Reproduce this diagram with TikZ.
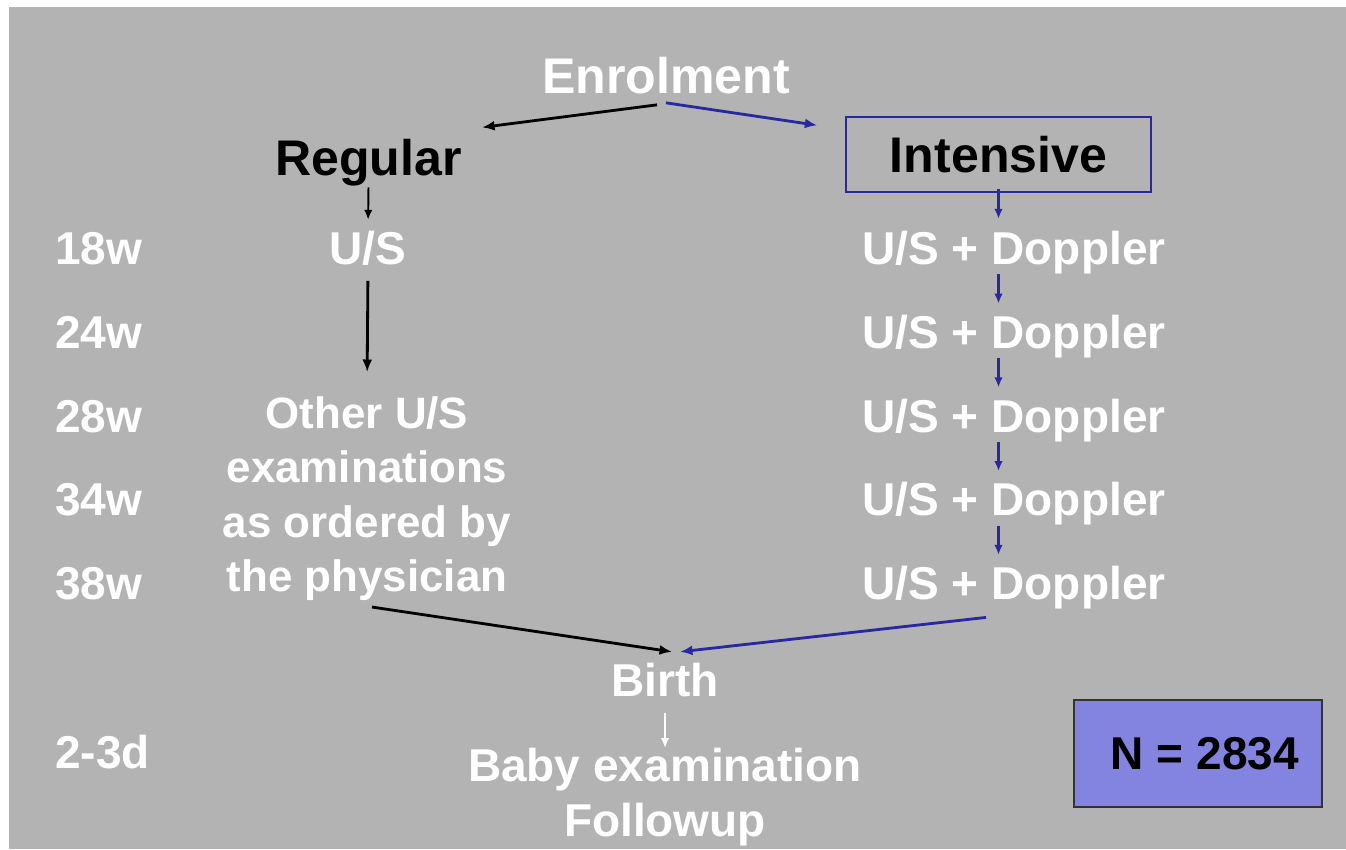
\documentclass[tikz,border=0pt]{standalone}
\usepackage{fontspec}
\setmainfont{Liberation Sans}
\usetikzlibrary{arrows.meta,calc}
\definecolor{slidegray}{RGB}{179,179,179}
\definecolor{arrowblue}{RGB}{40,40,160}
\definecolor{boxblue}{RGB}{131,131,224}
\newcommand\headfont{\fontsize{28.5}{34}\selectfont\bfseries}
\newcommand\rowfont{\fontsize{26.2}{31}\selectfont\bfseries}
\newcommand\notefont{\fontsize{25}{31}\selectfont\bfseries}

\begin{document}
\begin{tikzpicture}[x=0.02cm,y=-0.02cm]
    \tikzset{title/.style = {font=\headfont, inner sep=0pt}}
    \tikzset{row/.style = {font=\rowfont, text=white, inner sep=0pt, anchor=base}}
    \tikzset{week/.style = {row, anchor=base west}}
    \tikzset{blk/.style = {draw=black, line width=1.6pt, -{Latex[length=0.25cm,width=0.2cm]}}}
    \tikzset{blu/.style = {blk, draw=arrowblue}}
    \tikzset{short/.style = {-{Latex[length=0.2cm,width=0.17cm]}}}

    \useasboundingbox (0,0) rectangle (1346,849);
    \fill[slidegray] (9,7) rectangle (1346,849);

    % vertices
    \node[title, text=white, anchor=base] (enrol) at (666,93) {Enrolment};
    \node[title, anchor=base] (regular) at (368.5,175) {Regular};
    \node[title, draw=arrowblue, line width=0.8pt, minimum width=6.1cm, minimum height=1.5cm] (intens) at (998.5,154.5) {Intensive};
    \node[row] (us) at (368,264.5) {U/S};
    \foreach \w [count=\i] in {18w,24w,28w,34w,38w}
        \node[week] (wk\i) at (55,180.75+83.75*\i) {\w};
    \node[week] (wk6) at (55,768.5) {2-3d};
    \foreach \i in {1,...,5}
        \node[row] (dop\i) at (1014,180.75+83.75*\i) {U/S + Doppler};
    \node[row, font=\notefont, align=center, anchor=north] (other) at (367,396) {Other U/S\\examinations\\as ordered by\\the physician};
    \node[row] (birth) at (665,696.5) {Birth};
    \node[row, align=center, anchor=north] (baby) at (665,748) {Baby examination\\Followup};
    \node[draw=black!80, line width=1pt, fill=boxblue, font=\rowfont, minimum width=4.96cm, minimum height=2.14cm] (count) at (1198,753.5) {\hspace{8pt}N = 2834};

    % edges
    \draw[blk] ($(enrol.south)+(-9,11)$) -- ($(regular.north east)+(20,-11)$);
    \draw[blu] ($(enrol.south)+(0,9)$) -- ($(intens.north west)+(-28,9)$);
    \draw[blk, short, line width=1.1pt, shorten <=0.03cm, shorten >=0.22cm] (regular.south) -- (us.north);
    \draw[blk, shorten <=0.3cm, shorten >=0.48cm] (us.south) -- (other.north);
    \draw[blu, short, shorten <=-0.08cm, shorten >=0.24cm] (intens.south) -- (intens.south |- dop1.north);
    \foreach \i [evaluate=\i as \j using int(\i+1)] in {1,...,4}
        \draw[blu, short, shorten >=0.22cm] (dop\i.south -| intens.south) -- (dop\j.north -| intens.south);
    \draw[blk] ($(other.south)+(5,6)$) -- ($(birth.north)+(7,-11)$);
    \draw[blu] ($(dop5.south)+(-28,8)$) -- ($(birth.north)+(15,-11)$);
    \draw[blk, short, draw=white, line width=1.1pt, shorten <=0.31cm] (birth.south) -- (baby.north);
\end{tikzpicture}
\end{document}
